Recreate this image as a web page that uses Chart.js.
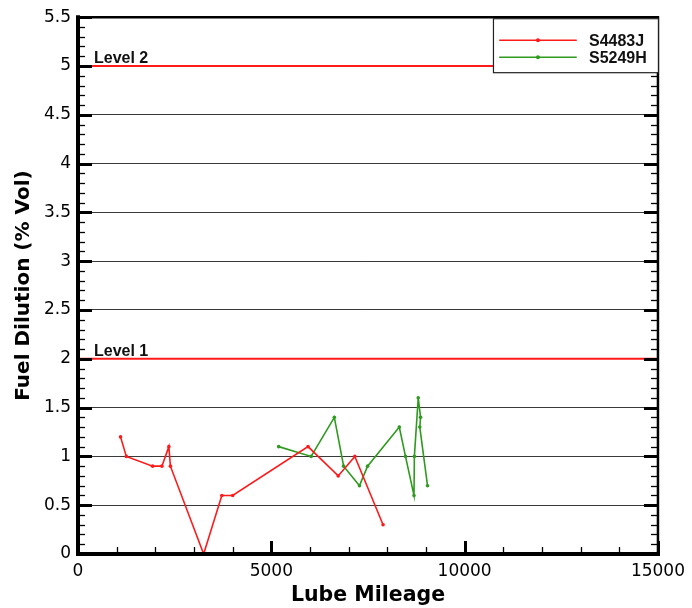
<!DOCTYPE html>
<html><head><meta charset="utf-8">
<script src="https://cdn.jsdelivr.net/npm/chart.js@4/dist/chart.umd.min.js"></script>
<style>html,body{margin:0;padding:0;background:#fff}#wrap{width:692px;height:608px}</style>
</head><body><div id="wrap"><canvas id="c" width="692" height="608"></canvas></div>
<script>
// ---- data ----
const seriesNames = ['S4483J', 'S5249H'];
const s4483jMiles = [1100, 1250, 1930, 2170, 2350, 2390, 3250, 3720, 4000, 5950, 6730, 7160, 7890];
const s4483jFuel  = [1.2, 1.0, 0.9, 0.9, 1.1, 0.9, 0.0, 0.6, 0.6, 1.1, 0.8, 1.0, 0.3];
const s5249hMiles = [5190, 6030, 6630, 6870, 7280, 7490, 8310, 8470, 8690, 8700, 8800, 8860, 8840, 9040];
const s5249hFuel  = [1.1, 1.0, 1.4, 0.9, 0.7, 0.9, 1.3, 1.0, 0.6, 1.0, 1.6, 1.4, 1.3, 0.7];
const levelValues = [2, 5];
const levelLabels = ['Level 1', 'Level 2'];
const xTickValues = [0, 5000, 10000, 15000];
const yMin = 0, yMax = 5.5, xMin = 0, xMax = 15000;

const RED = '#ff1a1a', GREEN = '#2e9a1e';
const FONT = "'Liberation Sans', Arial, sans-serif";
const WIDE = "'DejaVu Sans', 'Liberation Sans', sans-serif";
Chart.defaults.font.family = FONT;
Chart.defaults.color = '#000';

const pts = (xs, ys) => xs.map((x, i) => ({x, y: ys[i]}));

const datasets = [];
levelValues.forEach((lv) => {
  datasets.push({
    data: [{x: xMin, y: lv}, {x: xMax, y: lv}],
    borderColor: RED, borderWidth: 2, pointRadius: 0, fill: false, order: 3
  });
});
datasets.push({label: seriesNames[0], data: pts(s4483jMiles, s4483jFuel), borderColor: RED, backgroundColor: RED,
  borderWidth: 1.6, pointRadius: 1.8, pointBorderWidth: 0, tension: 0, order: 1});
datasets.push({label: seriesNames[1], data: pts(s5249hMiles, s5249hFuel), borderColor: GREEN, backgroundColor: GREEN,
  borderWidth: 1.6, pointRadius: 1.8, pointBorderWidth: 0, tension: 0, order: 2});

const decor = {
  id: 'decor',
  afterDraw(chart) {
    const {ctx, chartArea: a, scales: {x, y}} = chart;
    ctx.save();
    // level labels
    ctx.fillStyle = '#111';
    ctx.font = "bold 16px " + FONT;
    ctx.textBaseline = 'alphabetic';
    ctx.textAlign = 'left';
    levelValues.forEach((lv, i) => {
      ctx.fillText(levelLabels[i], x.getPixelForValue(xMin) + 16, y.getPixelForValue(lv) - 3);
    });
    // ticks (inward)
    ctx.strokeStyle = '#000';
    for (let v = xMin; v <= xMax + 1e-6; v += 1000) {
      const major = v % 5000 === 0;
      const px = Math.round(x.getPixelForValue(v)) + 0.5;
      ctx.lineWidth = major ? 3 : 1.3;
      ctx.beginPath(); ctx.moveTo(px, a.bottom); ctx.lineTo(px, a.bottom - (major ? 13 : 7)); ctx.stroke();
    }
    for (let k = 0; k <= 55; k++) {
      const v = k / 10;
      const major = k % 5 === 0;
      const py = Math.round(y.getPixelForValue(v)) + 0.5;
      ctx.lineWidth = major ? 3 : 1.3;
      const len = major ? 14 : 7;
      ctx.beginPath(); ctx.moveTo(a.left, py); ctx.lineTo(a.left + len, py); ctx.stroke();
      ctx.beginPath(); ctx.moveTo(a.right, py); ctx.lineTo(a.right - len, py); ctx.stroke();
    }
    // frame
    ctx.lineCap = 'square';
    ctx.lineWidth = 4;
    ctx.beginPath(); ctx.moveTo(a.left, a.top); ctx.lineTo(a.left, a.bottom); ctx.lineTo(a.right, a.bottom); ctx.stroke();
    ctx.lineWidth = 2.5;
    ctx.beginPath(); ctx.moveTo(a.left, a.top); ctx.lineTo(a.right, a.top); ctx.lineTo(a.right, a.bottom); ctx.stroke();
    // legend box
    const bx = a.right - 165, by = a.top + 1, bw = 165, bh = 54;
    ctx.fillStyle = '#fff';
    ctx.fillRect(bx, by, bw, bh);
    ctx.lineWidth = 1.2; ctx.strokeStyle = '#222';
    ctx.strokeRect(bx + 0.5, by + 0.5, bw, bh);
    const cols = [RED, GREEN];
    seriesNames.forEach((nm, i) => {
      const ly = by + 22 + i * 17;
      ctx.strokeStyle = cols[i]; ctx.lineWidth = 1.6;
      ctx.beginPath(); ctx.moveTo(bx + 7, ly); ctx.lineTo(bx + 83, ly); ctx.stroke();
      ctx.fillStyle = cols[i];
      ctx.beginPath(); ctx.arc(bx + 45, ly, 2, 0, Math.PI * 2); ctx.fill();
      ctx.fillStyle = '#111';
      ctx.font = "bold 16px " + FONT;
      ctx.textBaseline = 'middle';
      ctx.fillText(nm, bx + 96, ly + 1);
    });
    ctx.restore();
  }
};

new Chart(document.getElementById('c'), {
  type: 'line',
  data: {datasets},
  options: {
    responsive: false, animation: false,
    layout: {padding: {top: 15, right: 32, left: 0, bottom: 0}},
    plugins: {legend: {display: false}, tooltip: {enabled: false}},
    scales: {
      x: {
        type: 'linear', min: xMin, max: xMax,
        afterBuildTicks(s) { s.ticks = xTickValues.map(v => ({value: v})); },
        ticks: {color: '#000', font: {size: 17, family: WIDE}, padding: 7, maxRotation: 0, autoSkip: false,
          callback: (v) => String(v)},
        grid: {display: false, drawTicks: false},
        border: {display: false},
        title: {display: true, text: 'Lube Mileage', color: '#000', font: {size: 20.5, weight: 'bold', family: WIDE}, padding: {top: 0, bottom: 0}},
        afterFit(s) { s.height = 54; }
      },
      y: {
        type: 'linear', min: yMin, max: yMax,
        ticks: {stepSize: 0.5, color: '#000', font: {size: 17, family: WIDE}, padding: 7,
          callback: (v) => String(Math.round(v * 10) / 10)},
        grid: {color: '#3a3a3a', lineWidth: 1, drawTicks: false},
        border: {display: false},
        title: {display: true, text: 'Fuel Dilution (% Vol)', color: '#000', font: {size: 20, weight: 'bold', family: WIDE}, padding: {top: 12, bottom: 0}},
        afterFit(s) { s.width = 78; }
      }
    }
  },
  plugins: [decor]
});
</script></body></html>
